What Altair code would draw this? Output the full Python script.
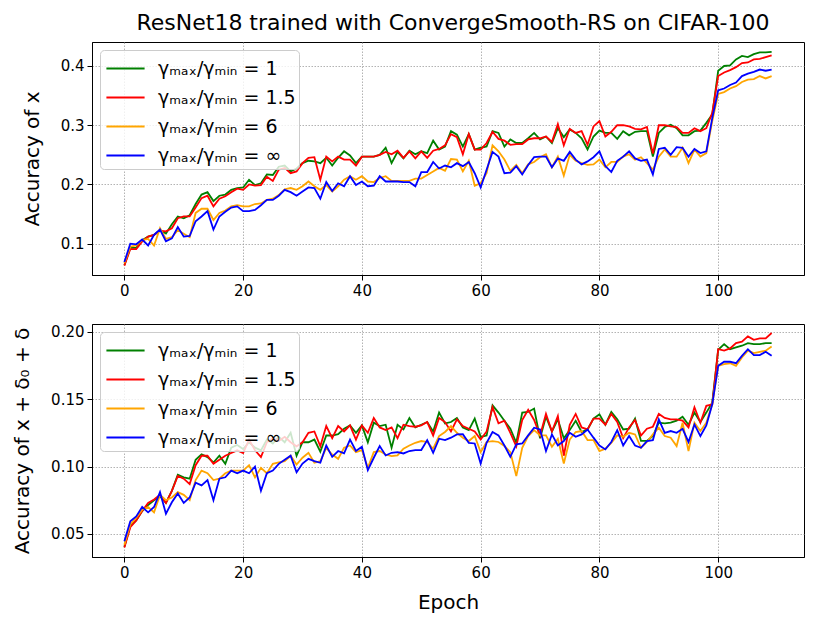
import altair as alt
import pandas as pd

epochs = list(range(110))
labels = ["γₘₐₓ/γₘᵢₙ = 1", "γₘₐₓ/γₘᵢₙ = 1.5", "γₘₐₓ/γₘᵢₙ = 6", "γₘₐₓ/γₘᵢₙ = ∞"]
colors = ["#008000", "#ff0000", "#ffa500", "#0000ff"]
x_ticks = [0, 20, 40, 60, 80, 100]
top_ticks = [0.1, 0.2, 0.3, 0.4]
bot_ticks = [0.05, 0.10, 0.15, 0.20]

# ---- top panel: accuracy of x ----
top_g = [0.064, 0.093, 0.093, 0.106, 0.112, 0.115, 0.123, 0.117, 0.133, 0.146,
         0.143, 0.148, 0.167, 0.183, 0.187, 0.172, 0.181, 0.183, 0.191, 0.194,
         0.195, 0.208, 0.199, 0.202, 0.217, 0.216, 0.230, 0.232, 0.222, 0.227,
         0.236, 0.240, 0.239, 0.236, 0.245, 0.232, 0.245, 0.256, 0.249, 0.236,
         0.247, 0.247, 0.247, 0.250, 0.262, 0.236, 0.255, 0.244, 0.257, 0.251,
         0.256, 0.253, 0.274, 0.259, 0.264, 0.290, 0.284, 0.264, 0.285, 0.259,
         0.262, 0.264, 0.290, 0.287, 0.264, 0.276, 0.270, 0.270, 0.278, 0.287,
         0.276, 0.281, 0.270, 0.295, 0.280, 0.293, 0.287, 0.278, 0.259, 0.281,
         0.291, 0.287, 0.287, 0.277, 0.290, 0.283, 0.289, 0.290, 0.290, 0.247,
         0.287, 0.297, 0.301, 0.295, 0.283, 0.283, 0.290, 0.291, 0.304, 0.318,
         0.392, 0.400, 0.401, 0.411, 0.417, 0.415, 0.420, 0.423, 0.423, 0.424]
top_r = [0.063, 0.091, 0.091, 0.104, 0.112, 0.115, 0.122, 0.121, 0.126, 0.143,
         0.146, 0.146, 0.161, 0.177, 0.181, 0.163, 0.176, 0.180, 0.187, 0.193,
         0.191, 0.200, 0.198, 0.199, 0.213, 0.206, 0.225, 0.228, 0.219, 0.222,
         0.236, 0.245, 0.246, 0.208, 0.247, 0.239, 0.247, 0.242, 0.242, 0.232,
         0.247, 0.247, 0.247, 0.250, 0.255, 0.251, 0.257, 0.245, 0.256, 0.244,
         0.256, 0.245, 0.257, 0.260, 0.266, 0.285, 0.280, 0.251, 0.285, 0.259,
         0.259, 0.270, 0.289, 0.277, 0.274, 0.267, 0.268, 0.268, 0.276, 0.278,
         0.278, 0.281, 0.272, 0.302, 0.266, 0.294, 0.287, 0.290, 0.267, 0.298,
         0.307, 0.281, 0.289, 0.300, 0.300, 0.298, 0.294, 0.293, 0.297, 0.252,
         0.300, 0.300, 0.298, 0.297, 0.287, 0.287, 0.295, 0.290, 0.295, 0.321,
         0.383, 0.389, 0.393, 0.398, 0.405, 0.406, 0.411, 0.412, 0.415, 0.418]
top_o = [0.067, 0.095, 0.097, 0.106, 0.108, 0.097, 0.126, 0.108, 0.111, 0.123,
         0.117, 0.111, 0.152, 0.159, 0.159, 0.140, 0.152, 0.156, 0.163, 0.165,
         0.163, 0.163, 0.167, 0.168, 0.174, 0.176, 0.182, 0.192, 0.194, 0.191,
         0.197, 0.205, 0.197, 0.191, 0.199, 0.188, 0.197, 0.208, 0.214, 0.208,
         0.214, 0.205, 0.204, 0.211, 0.214, 0.206, 0.206, 0.206, 0.206, 0.210,
         0.210, 0.216, 0.222, 0.228, 0.223, 0.243, 0.242, 0.222, 0.240, 0.198,
         0.202, 0.219, 0.266, 0.256, 0.242, 0.223, 0.233, 0.219, 0.234, 0.238,
         0.246, 0.251, 0.229, 0.247, 0.215, 0.250, 0.240, 0.236, 0.233, 0.234,
         0.242, 0.229, 0.238, 0.238, 0.247, 0.251, 0.242, 0.246, 0.236, 0.225,
         0.247, 0.259, 0.247, 0.247, 0.262, 0.236, 0.259, 0.247, 0.253, 0.307,
         0.353, 0.356, 0.362, 0.366, 0.373, 0.377, 0.378, 0.383, 0.379, 0.383]
top_b = [0.069, 0.100, 0.099, 0.107, 0.097, 0.115, 0.124, 0.104, 0.109, 0.128,
         0.112, 0.113, 0.138, 0.146, 0.155, 0.124, 0.146, 0.154, 0.161, 0.163,
         0.155, 0.155, 0.157, 0.165, 0.174, 0.174, 0.181, 0.191, 0.187, 0.181,
         0.188, 0.195, 0.194, 0.176, 0.204, 0.189, 0.202, 0.197, 0.214, 0.199,
         0.205, 0.197, 0.198, 0.214, 0.205, 0.205, 0.205, 0.204, 0.204, 0.197,
         0.221, 0.221, 0.238, 0.227, 0.232, 0.229, 0.236, 0.231, 0.238, 0.219,
         0.195, 0.225, 0.255, 0.247, 0.219, 0.220, 0.231, 0.217, 0.233, 0.246,
         0.247, 0.247, 0.229, 0.244, 0.240, 0.255, 0.242, 0.234, 0.239, 0.246,
         0.256, 0.231, 0.221, 0.240, 0.247, 0.256, 0.244, 0.240, 0.242, 0.217,
         0.260, 0.262, 0.250, 0.263, 0.262, 0.247, 0.260, 0.253, 0.256, 0.312,
         0.359, 0.362, 0.368, 0.372, 0.383, 0.387, 0.390, 0.394, 0.392, 0.394]

# ---- bottom panel: accuracy of x + delta0 + delta ----
bot_g = [0.0405, 0.056, 0.060, 0.067, 0.0715, 0.075, 0.078, 0.073, 0.082, 0.094,
         0.092, 0.091, 0.105, 0.109, 0.107, 0.103, 0.108, 0.102, 0.114, 0.116,
         0.113, 0.118, 0.114, 0.112, 0.120, 0.117, 0.122, 0.118, 0.125, 0.108,
         0.118, 0.118, 0.120, 0.111, 0.123, 0.123, 0.124, 0.128, 0.1305, 0.125,
         0.1305, 0.118, 0.1325, 0.130, 0.131, 0.114, 0.131, 0.1275, 0.136, 0.129,
         0.131, 0.133, 0.126, 0.140, 0.132, 0.133, 0.136, 0.129, 0.127, 0.1355,
         0.122, 0.123, 0.1454, 0.140, 0.134, 0.128, 0.1176, 0.140, 0.1405, 0.143,
         0.121, 0.137, 0.126, 0.135, 0.121, 0.127, 0.134, 0.1256, 0.1275, 0.1355,
         0.1387, 0.131, 0.1405, 0.135, 0.1275, 0.128, 0.1355, 0.119, 0.119, 0.1226,
         0.1325, 0.132, 0.1325, 0.134, 0.137, 0.131, 0.140, 0.133, 0.140, 0.1474,
         0.1866, 0.1908, 0.187, 0.1883, 0.1896, 0.1915, 0.1908, 0.1908, 0.1915, 0.1915]
bot_r = [0.040, 0.055, 0.060, 0.067, 0.073, 0.0755, 0.079, 0.073, 0.082, 0.093,
         0.091, 0.087, 0.101, 0.108, 0.108, 0.102, 0.105, 0.108, 0.110, 0.112,
         0.110, 0.120, 0.112, 0.107, 0.118, 0.121, 0.119, 0.122, 0.118, 0.115,
         0.118, 0.125, 0.126, 0.115, 0.130, 0.121, 0.130, 0.126, 0.1305, 0.120,
         0.1305, 0.125, 0.136, 0.129, 0.127, 0.129, 0.121, 0.131, 0.130, 0.1295,
         0.1305, 0.133, 0.123, 0.136, 0.133, 0.126, 0.135, 0.130, 0.128, 0.126,
         0.120, 0.126, 0.144, 0.132, 0.134, 0.125, 0.115, 0.1345, 0.142, 0.1345,
         0.123, 0.139, 0.126, 0.1375, 0.108, 0.131, 0.139, 0.129, 0.1275, 0.1355,
         0.1355, 0.131, 0.139, 0.133, 0.121, 0.129, 0.1345, 0.123, 0.128, 0.1295,
         0.139, 0.136, 0.135, 0.135, 0.134, 0.129, 0.144, 0.1325, 0.145, 0.146,
         0.187, 0.186, 0.1876, 0.1915, 0.1926, 0.1965, 0.194, 0.195, 0.195, 0.199]
bot_o = [0.042, 0.057, 0.062, 0.068, 0.070, 0.066, 0.079, 0.075, 0.077, 0.081,
         0.079, 0.075, 0.090, 0.097, 0.095, 0.090, 0.091, 0.095, 0.097, 0.097,
         0.097, 0.101, 0.092, 0.099, 0.095, 0.102, 0.103, 0.104, 0.108, 0.1015,
         0.1065, 0.1102, 0.1028, 0.104, 0.1139, 0.1089, 0.1057, 0.1139, 0.1156, 0.1107,
         0.1122, 0.099, 0.1107, 0.1115, 0.1089, 0.1077, 0.1082, 0.1132, 0.1156, 0.1176,
         0.1189, 0.1182, 0.1132, 0.1226, 0.1256, 0.130, 0.125, 0.1214, 0.1189, 0.1226,
         0.1107, 0.1182, 0.1189, 0.1182, 0.1152, 0.1107, 0.0929, 0.1139, 0.1226, 0.127,
         0.1231, 0.1231, 0.1147, 0.1206, 0.1022, 0.120, 0.1256, 0.1263, 0.1196, 0.1196,
         0.1115, 0.1132, 0.1176, 0.1231, 0.1221, 0.125, 0.1238, 0.1139, 0.1182, 0.1238,
         0.1288, 0.1226, 0.1214, 0.1152, 0.1325, 0.1115, 0.1325, 0.1263, 0.1325, 0.1461,
         0.1747, 0.1759, 0.1766, 0.1747, 0.1809, 0.1859, 0.1841, 0.1851, 0.1859, 0.189]
bot_b = [0.0445, 0.0594, 0.063, 0.070, 0.066, 0.070, 0.081, 0.065, 0.0735, 0.080,
         0.073, 0.077, 0.088, 0.086, 0.090, 0.075, 0.091, 0.092, 0.097, 0.095,
         0.097, 0.095, 0.100, 0.082, 0.095, 0.097, 0.102, 0.105, 0.108, 0.0958,
         0.1022, 0.1057, 0.104, 0.1028, 0.1156, 0.1072, 0.1115, 0.1097, 0.120, 0.1115,
         0.1147, 0.0973, 0.1065, 0.1152, 0.1082, 0.1102, 0.1107, 0.1097, 0.1115, 0.1122,
         0.1122, 0.1196, 0.1102, 0.1206, 0.1196, 0.1214, 0.1238, 0.1240, 0.1176, 0.1171,
         0.1022, 0.1176, 0.1256, 0.1231, 0.1156, 0.1072, 0.1164, 0.1171, 0.1231, 0.1288,
         0.1275, 0.1115, 0.1238, 0.1156, 0.1189, 0.125, 0.1221, 0.1238, 0.1275, 0.1214,
         0.1156, 0.1127, 0.1182, 0.127, 0.1156, 0.1226, 0.1156, 0.1139, 0.1189, 0.1196,
         0.135, 0.125, 0.1263, 0.125, 0.128, 0.1182, 0.1312, 0.1226, 0.1305, 0.1461,
         0.1747, 0.1777, 0.1777, 0.1766, 0.1821, 0.187, 0.1826, 0.1826, 0.1851, 0.1821]


def long_form(series_list):
    rows = []
    for k, (lab, vals) in enumerate(zip(labels, series_list)):
        for e, v in zip(epochs, vals):
            rows.append({"epoch": e, "acc": v, "series": lab, "k": k})
    return pd.DataFrame(rows)


FONT = "DejaVu Sans"


def panel(df, ydom, yticks, yfmt, ytitle, xtitle_on):
    if xtitle_on:
        xaxis = alt.Axis(values=x_ticks, format="d", title="Epoch", titlePadding=12)
    else:
        xaxis = alt.Axis(values=x_ticks, format="d", title=None)
    x = alt.X("epoch:Q", scale=alt.Scale(domain=[-5.45, 114.45], nice=False, zero=False),
              axis=xaxis)
    y = alt.Y("acc:Q", scale=alt.Scale(domain=ydom, nice=False, zero=False),
              axis=alt.Axis(values=yticks, format=yfmt, title=ytitle, titlePadding=18))
    color = alt.Color(
        "series:N",
        scale=alt.Scale(domain=labels, range=colors),
        sort=labels,
        legend=alt.Legend(
            title=None, orient="top-left", offset=8, padding=3,
            fillColor="rgba(255,255,255,0.8)", strokeColor="#cccccc",
            cornerRadius=4, symbolType="M-1.35,0H1.35", symbolSize=800,
            symbolStrokeWidth=2, symbolOffset=7, labelFontSize=19, labelFont=FONT,
            labelOffset=17, rowPadding=3, labelLimit=400,
            labelColor="#000000",
        ),
    )
    return (
        alt.Chart(df)
        .mark_line(strokeWidth=1.8)
        .encode(x=x, y=y, color=color, order=alt.Order("epoch:Q"))
        .properties(width=712, height=233)
    )


top = panel(long_form([top_g, top_r, top_o, top_b]), [0.0472, 0.4405], top_ticks, ".1f",
            "Accuracy of x", False)
bottom = panel(long_form([bot_g, bot_r, bot_o, bot_b]), [0.0329, 0.2057], bot_ticks, ".2f",
               "Accuracy of x + δ₀ + δ", True)

chart = (
    alt.vconcat(top, bottom, spacing=24)
    .resolve_scale(color="independent")
    .resolve_legend(color="independent")
    .properties(
        title=alt.TitleParams(
            "ResNet18 trained with ConvergeSmooth-RS on CIFAR-100",
            fontSize=22, font=FONT, fontWeight="normal", anchor="middle",
            frame="group", offset=7, dx=5, color="#000000",
        ),
        padding={"left": 4, "top": 3, "right": 5, "bottom": 5},
    )
    .configure(font=FONT)
    .configure_view(stroke="#000000", strokeWidth=1)
    .configure_axis(
        labelFont=FONT, titleFont=FONT, labelFontSize=15, titleFontSize=20,
        titleFontWeight="normal", labelColor="#000000", titleColor="#000000",
        domainColor="#000000", tickColor="#000000", tickSize=5, labelPadding=3,
        gridColor="#a0a0a0", gridDash=[1.5, 1.5], gridWidth=0.8,
    )
)

chart.save("out.html", embed_options={"renderer": "svg", "actions": False})
